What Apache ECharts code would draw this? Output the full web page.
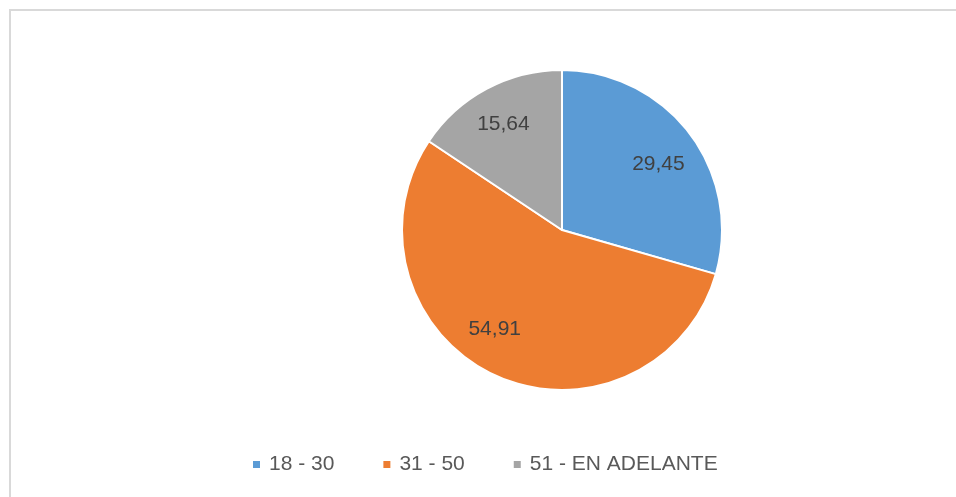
<!DOCTYPE html>
<html>
<head>
<meta charset="utf-8">
<script src="https://cdn.jsdelivr.net/npm/echarts@6/dist/echarts.min.js"></script>
<style>
    html, body { margin: 0; padding: 0; background: #fff; }
    #chart { width: 956px; height: 497px; }
</style>
</head>
<body>
<div id="chart"></div>
<script>
var categorias = ['18 - 30', '31 - 50', '51 - EN ADELANTE'];
var valores = [29.45, 54.91, 15.64];
var colores = ['#5b9bd5', '#ed7d31', '#a5a5a5'];

// desplazamiento fino de cada etiqueta (px)
var ajusteEtiqueta = [[-1, 8], [-16, -11], [-1, 2]];

var datos = categorias.map(function (c, i) {
    return { name: c, value: valores[i], itemStyle: { color: colores[i] } };
});

function formatoComa(p) {
    return p.value.toFixed(2).replace('.', ',');
}

var myChart = echarts.init(document.getElementById('chart'));

var option = {
    animation: false,
    graphic: [{
        type: 'rect',
        shape: { x: 10, y: 10, width: 980, height: 520 },
        style: { fill: 'none', stroke: '#d9d9d9', lineWidth: 2 },
        silent: true
    }],
    legend: {
        data: categorias,
        left: 251,
        top: 454,
        padding: 0,
        icon: 'rect',
        itemWidth: 9,
        itemHeight: 9,
        itemGap: 47,
        textStyle: {
            fontFamily: 'Liberation Sans',
            fontSize: 21,
            color: '#595959',
            padding: [0, 0, 0, 3]
        }
    },
    series: [{
        // tarta visible
        type: 'pie',
        center: [562, 230],
        radius: 160,
        startAngle: 90,
        clockwise: true,
        label: { show: false },
        labelLine: { show: false },
        itemStyle: { borderColor: '#fff', borderWidth: 2 },
        emphasis: { disabled: true },
        data: datos
    }, {
        // solo etiquetas
        type: 'pie',
        center: [562, 230],
        radius: [78, 160],
        startAngle: 90,
        clockwise: true,
        silent: true,
        itemStyle: { color: 'rgba(0,0,0,0)', borderWidth: 0 },
        label: {
            show: true,
            position: 'inside',
            formatter: formatoComa,
            fontFamily: 'Liberation Sans',
            fontSize: 21,
            color: '#404040'
        },
        labelLine: { show: false },
        labelLayout: function (p) {
            var a = ajusteEtiqueta[p.dataIndex];
            return { dx: a[0], dy: a[1] };
        },
        data: categorias.map(function (c, i) {
            return { name: c, value: valores[i] };
        })
    }]
};

myChart.setOption(option);
</script>
</body>
</html>
